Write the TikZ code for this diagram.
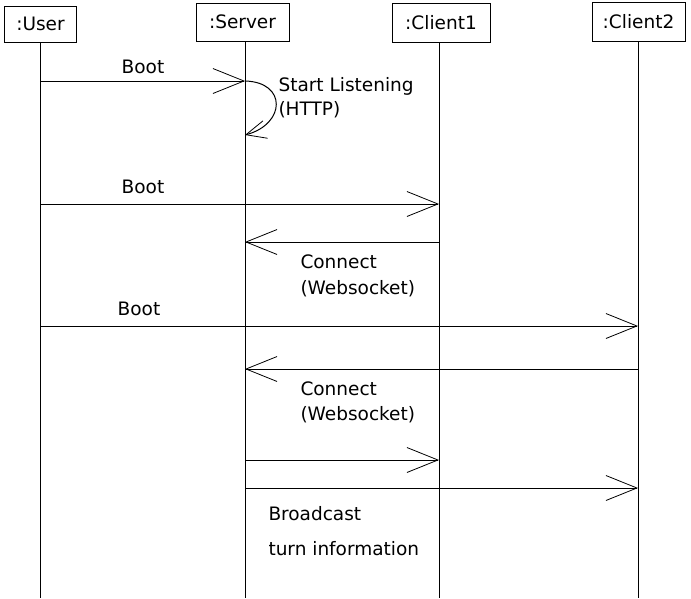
\documentclass[tikz,border=0pt]{standalone}
\usepackage{fontspec}
\setmainfont{DejaVu Sans}
\usetikzlibrary{arrows.meta}
\begin{document}
\begin{tikzpicture}[x=1pt,y=-1pt, line width=1pt,
  obj/.style={draw, line width=1pt, minimum width=#1, inner sep=0pt, font=\fontsize{18.5}{20}\selectfont},
  lbl/.style={font=\fontsize{18.5}{20}\selectfont, inner sep=0pt},
  msg/.style={-{Straight Barb[length=31pt,width=25pt,line width=0.8pt]}},
  selfmsg/.style={-{Straight Barb[length=20pt,width=18pt,line width=0.8pt]}}]
\useasboundingbox[fill=white] (0,0) rectangle (691,598);
% objects
\node[obj=72pt, minimum height=36pt] (user) at (40.5,24) {:User};
\node[obj=93pt, minimum height=38pt] (server) at (242.5,22) {:Server};
\node[obj=98pt, minimum height=39pt] (client1) at (441,22.5) {:Client1};
\node[obj=93pt, minimum height=39pt] (client2) at (638.5,21.5) {:Client2};
% lifelines
\coordinate (uB) at (40,598);
\coordinate (sB) at (245,598);
\coordinate (c1B) at (439,598);
\coordinate (c2B) at (638,598);
\draw (uB |- user.south) -- (uB);
\draw (sB |- server.south) -- (sB);
\draw (c1B |- client1.south) -- (c1B);
\draw (c2B |- client2.south) -- (c2B);
% messages
\draw[msg] (uB |- 0,81) -- (sB |- 0,81);
\draw[selfmsg] (sB |- 0,81) .. controls (287,82) and (286,124) .. (sB |- 0,135);
\draw[msg] (uB |- 0,204) -- (c1B |- 0,204);
\draw[msg] (c1B |- 0,242) -- (sB |- 0,242);
\draw[msg] (uB |- 0,326) -- (c2B |- 0,326);
\draw[msg] (c2B |- 0,369) -- (sB |- 0,369);
\draw[msg] (sB |- 0,460) -- (c1B |- 0,460);
\draw[msg] (sB |- 0,488) -- (c2B |- 0,488);
% labels
\node[lbl] (boot1) at (143,67) {Boot};
\node[lbl] (boot2) at (143,187) {Boot};
\node[lbl] (boot3) at (139,309) {Boot};
\node[lbl, anchor=west] (sl1) at (278,86) {Start Listening};
\node[lbl, anchor=west] (sl2) at (278,110) {(HTTP)};
\node[lbl, anchor=west] (c1a) at (300,262) {Connect};
\node[lbl, anchor=west] (c1b) at (300,289) {(Websocket)};
\node[lbl, anchor=west] (c2a) at (300,389) {Connect};
\node[lbl, anchor=west] (c2b) at (300,415) {(Websocket)};
\node[lbl, anchor=west] (bc1) at (268,514) {Broadcast};
\node[lbl, anchor=west] (bc2) at (268,549) {turn information};
\end{tikzpicture}
\end{document}
